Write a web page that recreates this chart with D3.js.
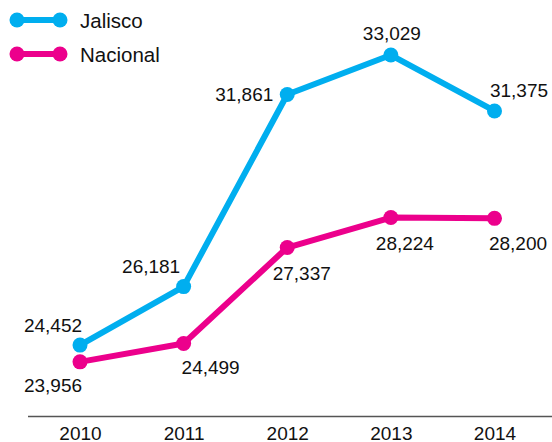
<!DOCTYPE html>
<html><head><meta charset="utf-8">
<script src="https://cdn.jsdelivr.net/npm/d3@7"></script>
<style>html,body{margin:0;padding:0;background:#fff;}svg{display:block;font-family:"Liberation Sans",Arial,Helvetica,sans-serif;}</style>
</head><body>
<svg id="chart" width="552" height="442"></svg>
<script>
const years = ["2010", "2011", "2012", "2013", "2014"];
const jalisco = [24452, 26181, 31861, 33029, 31375];
const nacional = [23956, 24499, 27337, 28224, 28200];
const seriesNames = ["Jalisco", "Nacional"];
const seriesColors = ["#00AEEF", "#EC008C"];

const svg = d3.select("#chart");
const x = d3.scalePoint().domain(years).range([80, 494.5]);
const y = d3.scaleLinear().domain([22000, 35000]).range([428, -11.6]);
const fmt = d3.format(",");

// axis
const axis = d3.axisBottom(x).tickSize(0).tickPadding(0);
const gx = svg.append("g").attr("transform", "translate(0,416.5)").call(axis);
gx.select(".domain").remove();
gx.append("line").attr("x1", 28).attr("x2", 552).attr("y1", 0).attr("y2", 0)
  .attr("stroke", "#555").attr("stroke-width", 1.6);
gx.selectAll(".tick text").attr("font-size", 19).attr("fill", "#111")
  .attr("font-family", "Liberation Sans, Arial, sans-serif")
  .attr("y", 23.8).attr("dy", 0);

const series = [
  {name: seriesNames[0], values: jalisco, color: seriesColors[0],
   place: [[-27,-13],[-32.5,-14],[-43,6],[1,-15],[24.5,-14]]},
  {name: seriesNames[1], values: nacional, color: seriesColors[1],
   place: [[-27,30],[27,31],[14.5,32],[14,32],[23.5,32]]}
];

const line = d3.line().x((d,i) => x(years[i])).y(d => y(d));

series.forEach(s => {
  const g = svg.append("g");
  g.append("path").datum(s.values).attr("d", line).attr("fill", "none")
    .attr("stroke", s.color).attr("stroke-width", 6).attr("stroke-linejoin", "round");
  g.selectAll("circle").data(s.values).join("circle")
    .attr("cx", (d,i) => x(years[i])).attr("cy", d => y(d)).attr("r", 7.5).attr("fill", s.color);
  g.selectAll("text").data(s.values).join("text")
    .attr("x", (d,i) => x(years[i]) + s.place[i][0])
    .attr("y", (d,i) => y(d) + s.place[i][1])
    .attr("text-anchor", "middle").attr("font-size", 19).attr("fill", "#111")
    .text(d => fmt(d));
});

// legend
const leg = svg.append("g");
series.forEach((s, i) => {
  const ly = 20 + i * 34;
  leg.append("line").attr("x1", 17).attr("x2", 60).attr("y1", ly).attr("y2", ly)
    .attr("stroke", s.color).attr("stroke-width", 6);
  leg.append("circle").attr("cx", 17).attr("cy", ly).attr("r", 7.5).attr("fill", s.color);
  leg.append("circle").attr("cx", 60).attr("cy", ly).attr("r", 7.5).attr("fill", s.color);
  leg.append("text").attr("x", 80).attr("y", ly + 7.5).attr("font-size", 20.5)
    .attr("fill", "#111").text(s.name);
});
</script>
</body></html>
